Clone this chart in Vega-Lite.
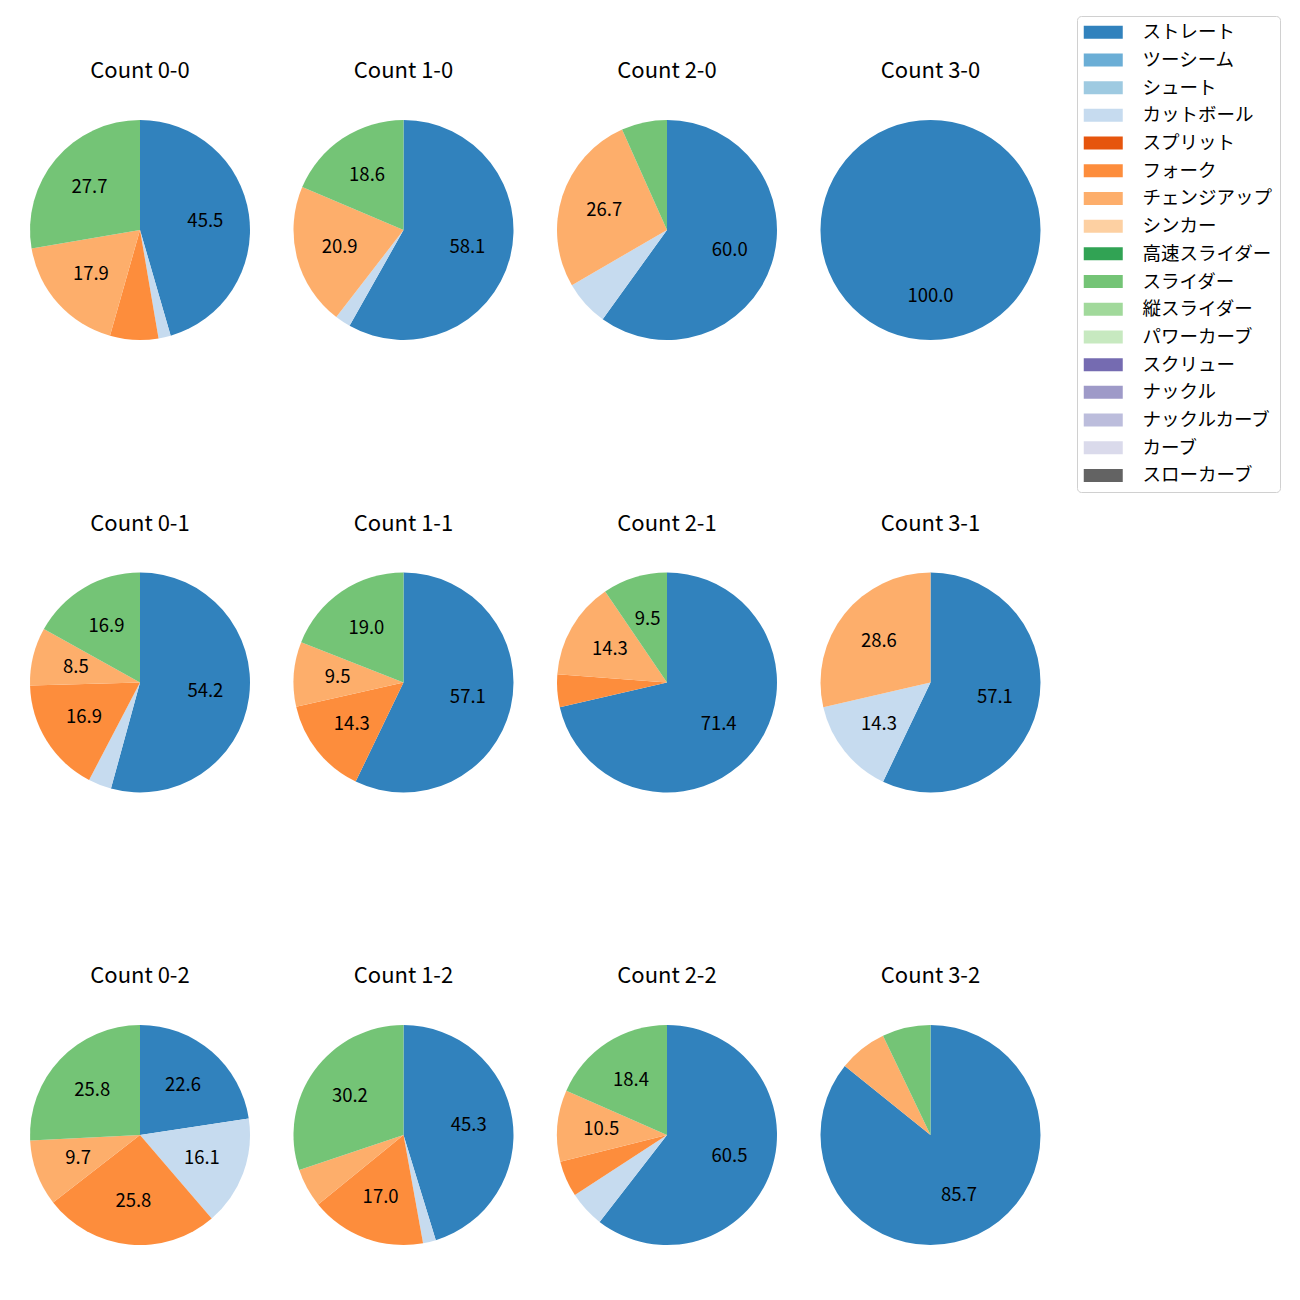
{
  "$schema": "https://vega.github.io/schema/vega-lite/v6.json",
  "padding": {"left": 20, "top": 15, "right": 5, "bottom": 5},
  "config": {"font": "Noto Sans CJK JP", "view": {"stroke": null}},
  "data": {"values": [
    {"count": "Count 0-0", "pitch": "ストレート", "k": 1, "pct": 45.5},
    {"count": "Count 0-0", "pitch": "カットボール", "k": 4, "pct": 1.8},
    {"count": "Count 0-0", "pitch": "フォーク", "k": 6, "pct": 7.1},
    {"count": "Count 0-0", "pitch": "チェンジアップ", "k": 7, "pct": 17.9},
    {"count": "Count 0-0", "pitch": "スライダー", "k": 10, "pct": 27.7},
    {"count": "Count 1-0", "pitch": "ストレート", "k": 1, "pct": 58.1},
    {"count": "Count 1-0", "pitch": "カットボール", "k": 4, "pct": 2.3},
    {"count": "Count 1-0", "pitch": "チェンジアップ", "k": 7, "pct": 20.9},
    {"count": "Count 1-0", "pitch": "スライダー", "k": 10, "pct": 18.6},
    {"count": "Count 2-0", "pitch": "ストレート", "k": 1, "pct": 60.0},
    {"count": "Count 2-0", "pitch": "カットボール", "k": 4, "pct": 6.7},
    {"count": "Count 2-0", "pitch": "チェンジアップ", "k": 7, "pct": 26.7},
    {"count": "Count 2-0", "pitch": "スライダー", "k": 10, "pct": 6.7},
    {"count": "Count 3-0", "pitch": "ストレート", "k": 1, "pct": 100.0},
    {"count": "Count 0-1", "pitch": "ストレート", "k": 1, "pct": 54.2},
    {"count": "Count 0-1", "pitch": "カットボール", "k": 4, "pct": 3.4},
    {"count": "Count 0-1", "pitch": "フォーク", "k": 6, "pct": 16.9},
    {"count": "Count 0-1", "pitch": "チェンジアップ", "k": 7, "pct": 8.5},
    {"count": "Count 0-1", "pitch": "スライダー", "k": 10, "pct": 16.9},
    {"count": "Count 1-1", "pitch": "ストレート", "k": 1, "pct": 57.1},
    {"count": "Count 1-1", "pitch": "フォーク", "k": 6, "pct": 14.3},
    {"count": "Count 1-1", "pitch": "チェンジアップ", "k": 7, "pct": 9.5},
    {"count": "Count 1-1", "pitch": "スライダー", "k": 10, "pct": 19.0},
    {"count": "Count 2-1", "pitch": "ストレート", "k": 1, "pct": 71.4},
    {"count": "Count 2-1", "pitch": "フォーク", "k": 6, "pct": 4.8},
    {"count": "Count 2-1", "pitch": "チェンジアップ", "k": 7, "pct": 14.3},
    {"count": "Count 2-1", "pitch": "スライダー", "k": 10, "pct": 9.5},
    {"count": "Count 3-1", "pitch": "ストレート", "k": 1, "pct": 57.1},
    {"count": "Count 3-1", "pitch": "カットボール", "k": 4, "pct": 14.3},
    {"count": "Count 3-1", "pitch": "チェンジアップ", "k": 7, "pct": 28.6},
    {"count": "Count 0-2", "pitch": "ストレート", "k": 1, "pct": 22.6},
    {"count": "Count 0-2", "pitch": "カットボール", "k": 4, "pct": 16.1},
    {"count": "Count 0-2", "pitch": "フォーク", "k": 6, "pct": 25.8},
    {"count": "Count 0-2", "pitch": "チェンジアップ", "k": 7, "pct": 9.7},
    {"count": "Count 0-2", "pitch": "スライダー", "k": 10, "pct": 25.8},
    {"count": "Count 1-2", "pitch": "ストレート", "k": 1, "pct": 45.3},
    {"count": "Count 1-2", "pitch": "カットボール", "k": 4, "pct": 1.9},
    {"count": "Count 1-2", "pitch": "フォーク", "k": 6, "pct": 17.0},
    {"count": "Count 1-2", "pitch": "チェンジアップ", "k": 7, "pct": 5.7},
    {"count": "Count 1-2", "pitch": "スライダー", "k": 10, "pct": 30.2},
    {"count": "Count 2-2", "pitch": "ストレート", "k": 1, "pct": 60.5},
    {"count": "Count 2-2", "pitch": "カットボール", "k": 4, "pct": 5.3},
    {"count": "Count 2-2", "pitch": "フォーク", "k": 6, "pct": 5.3},
    {"count": "Count 2-2", "pitch": "チェンジアップ", "k": 7, "pct": 10.5},
    {"count": "Count 2-2", "pitch": "スライダー", "k": 10, "pct": 18.4},
    {"count": "Count 3-2", "pitch": "ストレート", "k": 1, "pct": 85.7},
    {"count": "Count 3-2", "pitch": "チェンジアップ", "k": 7, "pct": 7.1},
    {"count": "Count 3-2", "pitch": "スライダー", "k": 10, "pct": 7.1}
  ]},
  "facet": {
    "field": "count", "type": "nominal", "title": null,
    "sort": ["Count 0-0","Count 1-0","Count 2-0","Count 3-0","Count 0-1","Count 1-1","Count 2-1","Count 3-1","Count 0-2","Count 1-2","Count 2-2","Count 3-2"],
    "header": {"labelFontSize": 22, "labelColor": "#000000", "labelPadding": 27, "labelFont": "Noto Sans CJK JP"}
  },
  "columns": 4,
  "spacing": {"row": 162.5, "column": 23.5},
  "spec": {
    "width": 240,
    "height": 240,
    "layer": [
      {
        "mark": {"type": "arc", "outerRadius": 110},
        "encoding": {
          "theta": {"field": "pct", "type": "quantitative", "stack": true},
          "order": {"field": "k", "type": "quantitative", "sort": "ascending"},
          "color": {
            "field": "pitch", "type": "nominal",
            "scale": {
              "domain": ["ストレート","ツーシーム","シュート","カットボール","スプリット","フォーク","チェンジアップ","シンカー","高速スライダー","スライダー","縦スライダー","パワーカーブ","スクリュー","ナックル","ナックルカーブ","カーブ","スローカーブ"],
              "range": ["#3182bd","#6baed6","#9ecae1","#c6dbef","#e6550d","#fd8d3c","#fdae6b","#fdd0a2","#31a354","#74c476","#a1d99b","#c7e9c0","#756bb1","#9e9ac8","#bcbddc","#dadaeb","#636363"]
            },
            "legend": {
              "title": null, "orient": "none", "legendX": 1057, "legendY": -94,
              "labelFontSize": 18.5, "labelFont": "Noto Sans CJK JP", "labelColor": "#000000",
              "symbolType": "M-3,-1H3V1H-3Z", "symbolSize": 169, "symbolStrokeWidth": 0, "symbolOpacity": 1,
              "symbolOffset": 10, "labelOffset": 30, "rowPadding": 8.7,
              "padding": 7, "strokeColor": "#d0d0d0", "fillColor": "#ffffff", "cornerRadius": 4
            }
          }
        }
      },
      {
        "mark": {"type": "text", "radius": 66, "fontSize": 18.5, "font": "Noto Sans CJK JP", "fill": "#000000"},
        "encoding": {
          "theta": {"field": "pct", "type": "quantitative", "stack": true},
          "order": {"field": "k", "type": "quantitative", "sort": "ascending"},
          "detail": {"field": "pitch", "type": "nominal"},
          "text": {"condition": {"test": "datum.pct < 8", "value": ""}, "field": "pct", "type": "quantitative", "format": ".1f"}
        }
      }
    ]
  }
}
